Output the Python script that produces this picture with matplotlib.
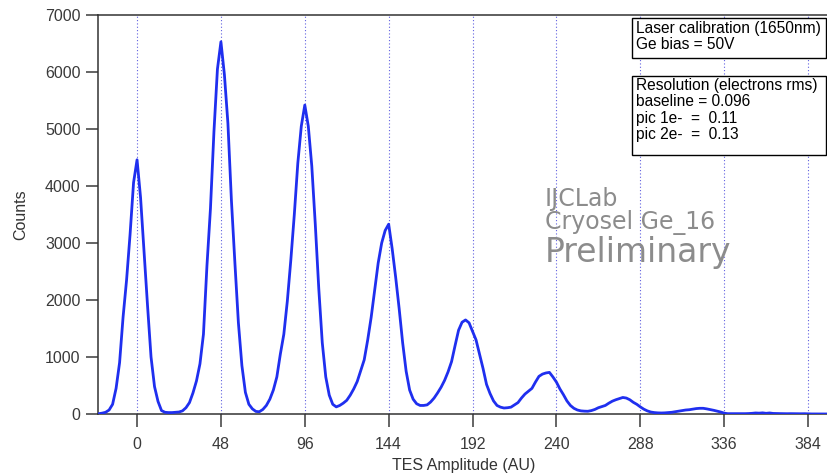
import matplotlib
matplotlib.use('Agg')
import matplotlib.pyplot as plt
from matplotlib.patches import Rectangle
import numpy as np

# bin centres (AU) and counts
amplitude = np.arange(-22, 398, 2)
counts = [
    5, 15, 30, 70, 170, 450, 900, 1700, 2350, 3150, 4060,          # -22 .. -2
    4460, 3800, 2850, 1900, 1000, 480, 220, 60, 30, 25, 25,        # 0 .. 20
    30, 35, 55, 110, 200, 370, 580, 880, 1400, 2600, 3600,         # 22 .. 42
    4950, 6050, 6530, 5950, 5100, 3750, 2650, 1600, 850, 380, 170, # 44 .. 64
    90, 45, 40, 80, 150, 260, 420, 650, 1050, 1400, 1980,          # 66 .. 86
    2700, 3500, 4400, 5050, 5420, 5050, 4350, 3330, 2200, 1250, 650,  # 88 .. 108
    330, 170, 125, 150, 190, 240, 330, 440, 570, 760, 950,         # 110 .. 130
    1300, 1700, 2180, 2650, 3000, 3220, 3330, 2900, 2400, 1850, 1250,  # 132 .. 152
    750, 420, 260, 180, 150, 150, 160, 210, 280, 370, 470,         # 154 .. 174
    590, 740, 920, 1200, 1470, 1610, 1650, 1600, 1450, 1300, 1050, # 176 .. 196
    800, 520, 360, 230, 150, 120, 105, 110, 120, 160, 200,         # 198 .. 218
    280, 350, 400, 450, 560, 660, 700, 720, 730, 650, 560,         # 220 .. 240
    440, 340, 230, 150, 100, 70, 55, 50, 48, 60, 80,               # 242 .. 262
    110, 130, 150, 190, 225, 250, 270, 290, 280, 250, 205,         # 264 .. 284
    170, 125, 85, 55, 35, 25, 20, 18, 20, 25, 30,                  # 286 .. 306
    40, 50, 60, 70, 75, 85, 95, 100, 100, 90, 78,                  # 308 .. 328
    65, 50, 35, 15, 6, 6, 5, 6, 5, 6, 8,                           # 330 .. 350
    12, 18, 15, 20, 12, 18, 10, 8, 7, 6, 5,                        # 352 .. 372
    6, 5, 5, 4, 5, 3, 1, 1, 1, 0, 1,                               # 374 .. 394
    0,                                                             # 396
]

xticks = [0, 48, 96, 144, 192, 240, 288, 336, 384]
yticks = [0, 1000, 2000, 3000, 4000, 5000, 6000, 7000]

info_text = 'Laser calibration (1650nm)\nGe bias = 50V'
res_text = ('Resolution (electrons rms)\nbaseline = 0.096\n'
            'pic 1e-  =  0.11\npic 2e-  =  0.13')

W, H = 828, 473


def fx(px):
    return px / W


def fy(py):
    return 1 - py / H


plt.rcParams['font.family'] = ['Liberation Sans', 'DejaVu Sans']

fig = plt.figure(figsize=(W / 100, H / 100), dpi=100)
ax = fig.add_axes([fx(98), fy(414), fx(829) - fx(98), fy(15) - fy(414)])

for v in xticks:
    ax.axvline(v, color='#6060e0', lw=0.8, ls=(0, (1, 2)), zorder=1)

ax.plot(amplitude, counts, color='#1f2fef', lw=2.0, zorder=3)

ax.set_xlim(-22.35, 396)
ax.set_ylim(0, 7000)
ax.set_xticks(xticks)
ax.set_yticks(yticks)
ax.tick_params(axis='x', direction='out', length=9, width=1.1, colors='#3a3a3a',
               labelsize=11.5, pad=7.5)
ax.tick_params(axis='y', direction='out', length=9, width=1.1, colors='#3a3a3a',
               labelsize=11.5, pad=3.5)
ax.spines['right'].set_visible(False)
for s in ['left', 'top', 'bottom']:
    ax.spines[s].set_color('#333333')
    ax.spines[s].set_linewidth(1.1)

ax.set_xlabel('TES Amplitude (AU)', fontsize=11.5, color='#333333', labelpad=4.5)
ax.set_ylabel('Counts', fontsize=11.5, color='#333333', labelpad=12)

# annotation boxes
fig.add_artist(Rectangle((fx(632), fy(58)), fx(826) - fx(632), fy(18) - fy(58),
                         transform=fig.transFigure, fc='white', ec='black', lw=1))
fig.text(fx(636), fy(21), info_text, ha='left', va='top', fontsize=11.2,
         linespacing=1.12, color='black')
fig.add_artist(Rectangle((fx(632), fy(155)), fx(826) - fx(632), fy(76) - fy(155),
                         transform=fig.transFigure, fc='white', ec='black', lw=1))
fig.text(fx(636), fy(78), res_text, ha='left', va='top', fontsize=11.2,
         linespacing=1.12, color='black')

# watermark
wm = ['DejaVu Sans']
fig.text(fx(545), fy(206), 'IJCLab', fontsize=17, color='#8c8c8c', family=wm)
fig.text(fx(545), fy(229), 'Cryosel Ge_16', fontsize=17, color='#8c8c8c', family=wm)
fig.text(fx(545), fy(262), 'Preliminary', fontsize=23.8, color='#8c8c8c', family=wm)

fig.savefig('out.png', dpi=100)
